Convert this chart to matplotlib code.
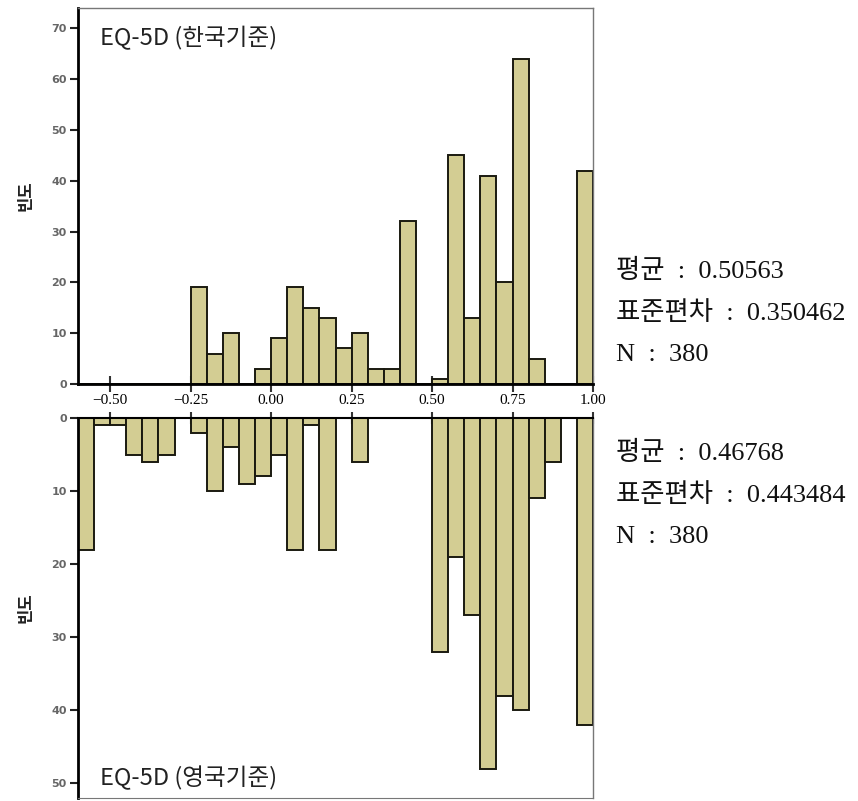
import matplotlib
matplotlib.use("Agg")
import matplotlib.pyplot as plt
import numpy as np

plt.rcParams['font.family'] = ['Noto Sans CJK KR', 'DejaVu Sans']

# bin edges (width 0.05) from -0.60 to 1.00
bin_edges = [round(-0.60 + 0.05 * i, 2) for i in range(33)]

# Top: EQ-5D (Korean weights) counts per bin
korea_counts = [0, 0, 0, 0, 0, 0, 0,
                19, 6, 10, 0, 3, 9, 19, 15, 13, 7, 10, 3, 3, 32, 0,
                1, 45, 13, 41, 20, 64, 5, 0, 0, 42]
# Bottom: EQ-5D (UK weights) counts per bin
uk_counts = [18, 1, 1, 5, 6, 5, 0,
             2, 10, 4, 9, 8, 5, 18, 1, 18, 0, 6, 0, 0, 0, 0,
             32, 19, 27, 48, 38, 40, 11, 6, 0, 42]

xticks = [-0.50, -0.25, 0.00, 0.25, 0.50, 0.75, 1.00]
xticklabels = ['−0.50', '−0.25', '0.00', '0.25', '0.50', '0.75', '1.00']
top_yticks = [0, 10, 20, 30, 40, 50, 60, 70]
bot_yticks = [0, 10, 20, 30, 40, 50]

top_title = 'EQ-5D (한국기준)'
bot_title = 'EQ-5D (영국기준)'
ylabel = '빈도'
top_stats = ['평균  :  0.50563', '표준편차  :  0.350462', 'N  :  380']
bot_stats = ['평균  :  0.46768', '표준편차  :  0.443484', 'N  :  380']

bar_color = '#d3cd93'
edge = '#1a1a10'

fig = plt.figure(figsize=(8.58, 8.01), dpi=100)
W, H = 858, 801

def axrect(l, t, r, b):
    return [l / W, 1 - b / H, (r - l) / W, (b - t) / H]

ax1 = fig.add_axes(axrect(78, 8, 593, 384))
ax2 = fig.add_axes(axrect(78, 418, 593, 798))

lefts = np.array(bin_edges[:-1])
width = 0.05

for ax, counts in ((ax1, korea_counts), (ax2, uk_counts)):
    ax.bar(lefts, counts, width=width, align='edge', color=bar_color,
           edgecolor=edge, linewidth=1.4, zorder=2)
    ax.set_xlim(-0.60, 1.00)
    ax.set_xticks(xticks)
    for s in ('top', 'right'):
        ax.spines[s].set_color('#777777')
        ax.spines[s].set_linewidth(1.0)
    ax.spines['left'].set_color('black')
    ax.spines['left'].set_linewidth(2.0)
    ax.tick_params(axis='y', direction='out', length=6, width=1.5,
                   labelsize=8, labelcolor='#666666', color='#222222', pad=2)
    ax.set_ylabel(ylabel, fontsize=12, fontweight='bold', color='#222222', labelpad=12)

ax1.set_ylim(0, 74)
ax1.set_yticks(top_yticks)
ax1.spines['bottom'].set_color('black')
ax1.spines['bottom'].set_linewidth(2.0)
ax1.set_xticklabels(xticklabels, family=['Liberation Serif', 'DejaVu Serif'], fontsize=11)
ax1.tick_params(axis='x', direction='inout', length=12, width=1.5, color='#333333', pad=1)

ax2.set_ylim(52, 0)
ax2.set_yticks(bot_yticks)
ax2.spines['top'].set_color('black')
ax2.spines['top'].set_linewidth(1.5)
ax2.spines['bottom'].set_color('#777777')
ax2.xaxis.set_ticks_position('top')
ax2.tick_params(axis='x', direction='inout', length=8, width=1.5, color='#333333',
                labeltop=False, labelbottom=False)

for ax in (ax1, ax2):
    for lab in ax.get_yticklabels():
        lab.set_fontweight('bold')
        lab.set_family(['DejaVu Sans'])

ax1.text(0.042, 0.92, top_title, transform=ax1.transAxes, fontsize=17,
         ha='left', va='center', color='#222222', fontweight='light')
ax2.text(0.042, 0.053, bot_title, transform=ax2.transAxes, fontsize=17,
         ha='left', va='center', color='#222222', fontweight='light')

fam = ['Liberation Serif', 'Noto Sans CJK KR']
for i, s in enumerate(top_stats):
    fig.text(616 / W, 1 - (271 + 42 * i) / H, s, fontsize=19, family=fam,
             ha='left', va='center', color='#111111', fontweight='light')
for i, s in enumerate(bot_stats):
    fig.text(616 / W, 1 - (453 + 42 * i) / H, s, fontsize=19, family=fam,
             ha='left', va='center', color='#111111', fontweight='light')

fig.savefig('out.png', dpi=100, facecolor='white')
